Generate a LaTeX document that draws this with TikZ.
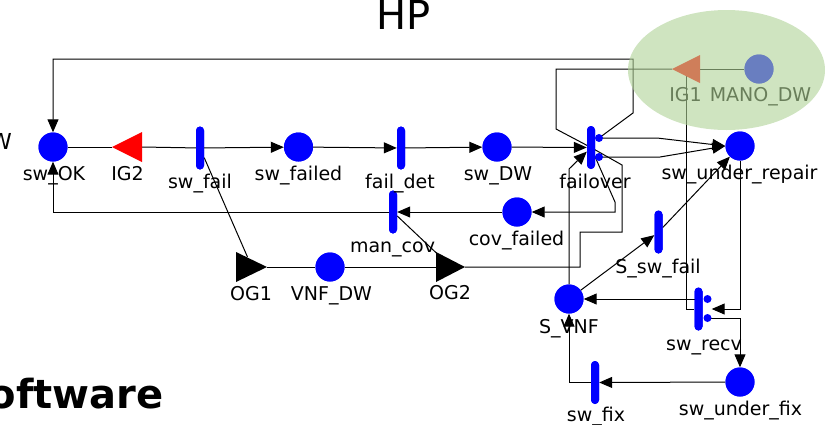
\documentclass[tikz,border=0pt]{standalone}
\usepackage{fontspec}
\setmainfont{DejaVu Sans}
\usetikzlibrary{arrows.meta,calc}
\definecolor{pblue}{RGB}{0,0,255}
\definecolor{manogreen}{RGB}{175,210,150}
\begin{document}
\begin{tikzpicture}[x=1pt,y=-1pt,
  place/.style={circle,fill=pblue,minimum size=29pt,inner sep=0pt},
  trans/.style={rectangle,fill=pblue,minimum width=8pt,minimum height=43pt,inner sep=0pt,rounded corners=4pt},
  lbl/.style={anchor=base,inner sep=0pt,font=\fontsize{19}{19}\selectfont},
  arc/.style={draw=black,line width=1pt},
  arr/.style={arc,-{Triangle[length=13pt,width=11pt]}},
  ]
\path[use as bounding box] (0,0) rectangle (838,424);
\clip (0,0) rectangle (838,424);

% ---- places and transitions (positions) ----
\node[place] (swOK) at (53,147) {};
\coordinate (IG2) at (127,147);
\node[trans] (swfail) at (200,148) {};
\node[place] (swfailed) at (298.5,147) {};
\node[trans] (faildet) at (401,148) {};
\node[place] (swDW) at (497,147) {};
\node[trans] (failover) at (591,147.5) {};
\node[place] (swur) at (740,146) {};
\coordinate (IG1) at (686,69);
\node[place] (MANO) at (759,69) {};
\node[place] (covfailed) at (517,212) {};
\node[trans] (mancov) at (393,212) {};
\coordinate (OG1) at (251.5,267);
\node[place] (VNFDW) at (330,267) {};
\coordinate (OG2) at (450.5,267);
\node[trans] (Sswfail) at (658.5,232) {};
\node[place] (SVNF) at (569,299) {};
\node[trans] (swrecv) at (698.5,309) {};
\node[place] (swuf) at (740,382) {};
\node[trans] (swfix) at (595,382.5) {};

\coordinate (IG2tip) at ($(IG2)+(-15,0)$);
\coordinate (IG2base) at ($(IG2)+(15,0)$);
\coordinate (IG1tip) at ($(IG1)+(-14,0)$);
\coordinate (OG1tip) at ($(OG1)+(15.5,0)$);
\coordinate (OG2base) at ($(OG2)+(-14.5,0)$);
\coordinate (OG2tip) at ($(OG2)+(14.5,0)$);
\coordinate (OG2in) at ($(OG2)+(-12,-12)$);
\coordinate (OG1in) at ($(OG1)+(-4,-10)$);
\coordinate (fo1) at (599,138);
\coordinate (fo2) at (599,157);
\coordinate (sr1) at (707.5,299);
\coordinate (sr2) at (707.5,318);
\coordinate (srin) at ($(swrecv.east)+(9,0)$);

% ---- connectors ----
\draw[arr] (fo1) -- (633,113) -- (633,59) -| (swOK);
\draw[arc] (MANO) -- (IG1);
\draw[arc] (IG1tip) -- (556,69) -- (556,129) -- (failover.center);
\draw[arc] (swOK) -- (IG2tip);
\draw[arc] (IG2base) -- (swfail);
\draw[arr] (swfail) -- (swfailed);
\draw[arr] (swfailed) -- (faildet);
\draw[arr] (faildet) -- (swDW);
\draw[arr] (swDW) -- (failover);
\draw[arr] (fo1) -- (657,138) -- (swur.west);
\draw[arr] (fo2) -- (660,157) -- (swur.west);
\draw[arr] (failover.center) -- (615,202) -- (615,212) -- (covfailed);
\draw[arc] (failover.center) -- (622,165) -- (622,232) -- (580,232) -- (580,267) -- (OG2tip);
\draw[arr] (SVNF) -- (569,169) -- (failover);
\draw[arr] (SVNF) -- (Sswfail);
\draw[arr] (Sswfail) -- (swur);
\draw[arr] (swur) |- (srin);
\draw[arc] (IG1) |- (swrecv);
\draw[arr] (swrecv.center |- SVNF) -- (SVNF);
\draw[arr] (sr2) -| (swuf);
\draw[arr] (swuf) -- (swfix);
\draw[arr] (swfix) -| (SVNF);
\draw[arr] (mancov) -| (swOK);
\draw[arr] (covfailed) -- (mancov);
\draw[arc] (mancov) -- (OG2in);
\draw[arc] (swfail) -- (OG1in);
\draw[arc] (OG1tip) -- (VNFDW);
\draw[arc] (VNFDW) -- (OG2base);

% ---- redraw places and transitions on top of the connectors ----
\foreach \p in {(53,147),(298.5,147),(497,147),(740,146),(759,69),(517,212),(330,267),(569,299),(740,382)}
  {\fill[pblue] \p circle (14.5pt);}
\foreach \p in {(200,148),(401,148),(591,147.5),(393,212),(658.5,232),(698.5,309),(595,382.5)}
  {\fill[pblue,rounded corners=4pt] \p ++(-4,-21.5) rectangle ++(8,43);}
\fill[pblue] (fo1) circle (4pt);
\fill[pblue] (fo2) circle (4pt);
\fill[pblue] (sr1) circle (4pt);
\fill[pblue] (sr2) circle (4pt);

% triangles
\fill[red] (IG2tip) -- ($(IG2)+(15,-15)$) -- ($(IG2)+(15,15)$) -- cycle;
\fill[red] (IG1tip) -- ($(IG1)+(14,-14)$) -- ($(IG1)+(14,14)$) -- cycle;
\fill[black] (OG1tip) -- ($(OG1)+(-15.5,-15)$) -- ($(OG1)+(-15.5,15)$) -- cycle;
\fill[black] (OG2tip) -- ($(OG2)+(-14.5,-15)$) -- ($(OG2)+(-14.5,15)$) -- cycle;

% ---- labels ----
\node[lbl] (LswOK) at (54,180) {sw\_OK};
\node[lbl] (LIG2) at (127.5,180) {IG2};
\node[lbl] (Lswfail) at (200,188) {sw\_fail};
\node[lbl] (Lswfailed) at (298.5,180) {sw\_failed};
\node[lbl] (Lfaildet) at (400,188) {fail\_det};
\node[lbl] (LswDW) at (498,180) {sw\_DW};
\node[lbl] (Lfailover) at (595,188) {failover};
\node[lbl] (Lswur) at (739.5,179) {sw\_under\_repair};
\node[lbl] (LIG1) at (685.5,101) {IG1};
\node[lbl] (LMANO) at (760.5,101) {MANO\_DW};
\node[lbl] (Lcovfailed) at (516.5,245) {cov\_failed};
\node[lbl] (Lmancov) at (392.5,252) {man\_cov};
\node[lbl] (LOG1) at (251,300) {OG1};
\node[lbl] (LVNFDW) at (331.5,300) {VNF\_DW};
\node[lbl] (LOG2) at (450,299) {OG2};
\node[lbl] (LSswfail) at (658,273) {S\_sw\_fail};
\node[lbl] (LSVNF) at (569,333) {S\_VNF};
\node[lbl] (Lswrecv) at (704,350) {sw\_recv};
\node[lbl] (Lswuf) at (740.5,415) {sw\_under\_fix};
\node[lbl] (Lswfix) at (596,421) {sw\_fix};

% ---- MANO group ellipse ----
\fill[manogreen,opacity=0.6] (726.5,70) ellipse [x radius=98.5pt, y radius=60pt];

% ---- titles ----
\node[anchor=base,inner sep=0pt,font=\fontsize{40}{40}\selectfont] (title) at (404,29) {HP};
\node[anchor=base east,inner sep=0pt,font=\fontsize{22}{22}\selectfont] (leftw) at (12,149) {W};
\node[anchor=base east,inner sep=0pt,font=\bfseries\fontsize{40}{40}\selectfont] (soft) at (164,408) {oftware};
\end{tikzpicture}
\end{document}
